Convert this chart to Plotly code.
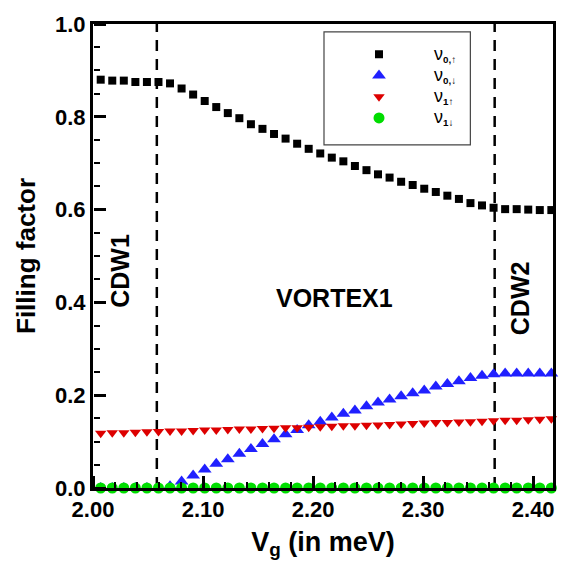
import plotly.graph_objects as go

vg = [2.007, 2.0175, 2.028, 2.0385, 2.049, 2.0595, 2.07, 2.0805, 2.091, 2.1015,
      2.112, 2.1225, 2.133, 2.1435, 2.154, 2.1645, 2.175, 2.1855, 2.196, 2.2065,
      2.217, 2.2275, 2.238, 2.2485, 2.259, 2.2695, 2.28, 2.2905, 2.301, 2.3115,
      2.322, 2.3325, 2.343, 2.3535, 2.364, 2.3745, 2.385, 2.3955, 2.406, 2.4165]

nu0_up = [0.880, 0.878, 0.878, 0.875, 0.875, 0.875, 0.872, 0.861, 0.848, 0.834,
          0.821, 0.808, 0.797, 0.784, 0.774, 0.763, 0.753, 0.742, 0.731, 0.721,
          0.712, 0.704, 0.694, 0.685, 0.676, 0.669, 0.660, 0.653, 0.645, 0.638,
          0.630, 0.623, 0.614, 0.609, 0.604, 0.601, 0.601, 0.600, 0.599, 0.599]

nu0_dn = [0.0, 0.0, 0.0, 0.0, 0.0, 0.0, 0.004, 0.014, 0.027, 0.040,
          0.052, 0.062, 0.074, 0.084, 0.095, 0.105, 0.116, 0.125, 0.135, 0.143,
          0.152, 0.160, 0.167, 0.176, 0.184, 0.191, 0.198, 0.204, 0.210, 0.219,
          0.224, 0.230, 0.237, 0.242, 0.245, 0.247, 0.247, 0.247, 0.247, 0.247]

nu1_up = [0.118, 0.119, 0.119, 0.120, 0.121, 0.122, 0.123, 0.123, 0.124, 0.125,
          0.125, 0.126, 0.127, 0.127, 0.128, 0.129, 0.130, 0.130, 0.131, 0.132,
          0.133, 0.134, 0.134, 0.135, 0.136, 0.137, 0.138, 0.139, 0.140, 0.141,
          0.141, 0.142, 0.143, 0.144, 0.145, 0.146, 0.146, 0.147, 0.148, 0.149]

nu1_dn = [0.0] * 40

boundaries = [2.058, 2.365]
region_labels = ["CDW1", "VORTEX1", "CDW2"]
region_x = [2.025, 2.219, 2.388]
region_y = [0.467, 0.409, 0.409]
region_angle = [-90, 0, -90]

series_names = ["0,↑", "0,↓", "1↑", "1↓"]

X_RANGE = [2.0, 2.418]
Y_RANGE = [0.0, 1.0]

FONT = "Liberation Sans, Arial, Helvetica, sans-serif"


def legend_name(sub):
    return '<span style="font-size:18px">ν</span><b><sub>%s</sub></b>' % sub


fig = go.Figure()
fig.add_trace(go.Scatter(x=vg, y=nu0_up, mode="markers", name=legend_name(series_names[0]),
                         cliponaxis=False,
                         marker=dict(symbol="square", size=8, color="black")))
fig.add_trace(go.Scatter(x=vg, y=nu0_dn, mode="markers", name=legend_name(series_names[1]),
                         cliponaxis=False,
                         marker=dict(symbol="triangle-up", size=12, color="#2020ff")))
fig.add_trace(go.Scatter(x=vg, y=nu1_up, mode="markers", name=legend_name(series_names[2]),
                         cliponaxis=False,
                         marker=dict(symbol="triangle-down", size=10, color="#dd0000")))
fig.add_trace(go.Scatter(x=vg, y=nu1_dn, mode="markers", name=legend_name(series_names[3]),
                         cliponaxis=False,
                         marker=dict(symbol="circle", size=11, color="#00dd00")))
# invisible companion trace so the inward-tick overlay axes are drawn
fig.add_trace(go.Scatter(x=vg, y=nu0_up, mode="markers", xaxis="x2", yaxis="y2",
                         marker=dict(opacity=0), showlegend=False, hoverinfo="skip"))

for b in boundaries:
    fig.add_shape(type="line", xref="x", yref="paper", x0=b, x1=b, y0=0, y1=1,
                  line=dict(color="black", width=2.5, dash="11px,8px"), layer="below")

for lab, xx, yy, ang in zip(region_labels, region_x, region_y, region_angle):
    fig.add_annotation(x=xx, y=yy, xref="x", yref="y", text="<b>%s</b>" % lab,
                       showarrow=False, textangle=ang,
                       font=dict(family=FONT, size=25, color="black"))

# legend frame
fig.add_shape(type="rect", xref="paper", yref="paper",
              x0=(325 - 93) / 462, x1=(472 - 93) / 462,
              y0=(488 - 139) / 472, y1=(488 - 24) / 472,
              line=dict(color="#444", width=1.2), fillcolor="white", layer="above")

fig.update_layout(
    width=568, height=564,
    margin=dict(l=93, r=13, t=16, b=76),
    plot_bgcolor="white", paper_bgcolor="white",
    font=dict(family=FONT, color="black"),
    xaxis=dict(range=X_RANGE, tickmode="linear", tick0=2.0, dtick=0.1, tickformat=".2f",
               showline=True, linecolor="black", linewidth=3, mirror=True,
               ticks="", showgrid=False, zeroline=False,
               tickfont=dict(family=FONT, size=22, color="black", weight="bold"),
               title=dict(text="<b>V<sub>g</sub> (in meV)</b>", standoff=11,
                          font=dict(family=FONT, size=27, color="black"))),
    yaxis=dict(range=Y_RANGE, tickmode="linear", tick0=0, dtick=0.2, tickformat=".1f",
               showline=True, linecolor="black", linewidth=3, mirror=True,
               ticks="", showgrid=False, zeroline=False,
               tickfont=dict(family=FONT, size=22, color="black", weight="bold"),
               title=dict(text="<b>Filling factor</b>", standoff=12,
                          font=dict(family=FONT, size=26, color="black"))),
    # overlay axes: outside ticks of a top-side axis placed at the bottom point inward
    xaxis2=dict(range=X_RANGE, overlaying="x", side="top", anchor="free", position=0,
                tickmode="linear", tick0=2.0, dtick=0.1,
                ticks="outside", ticklen=12, tickwidth=3, tickcolor="black",
                minor=dict(ticks="outside", ticklen=6, tickwidth=1.5, tickcolor="black",
                           dtick=0.02, tick0=2.0, showgrid=False),
                showticklabels=False, showline=False, showgrid=False, zeroline=False),
    yaxis2=dict(range=Y_RANGE, overlaying="y", side="right", anchor="free", position=0,
                tickmode="linear", tick0=0, dtick=0.2,
                ticks="outside", ticklen=12, tickwidth=3, tickcolor="black",
                minor=dict(ticks="outside", ticklen=6, tickwidth=1.5, tickcolor="black",
                           dtick=0.05, tick0=0, showgrid=False),
                showticklabels=False, showline=False, showgrid=False, zeroline=False),
    legend=dict(x=(325 - 93) / 462, y=(488 - 31) / 472, xanchor="left", yanchor="top",
                bgcolor="rgba(0,0,0,0)", borderwidth=0,
                font=dict(family=FONT, size=14, color="black"),
                itemwidth=100, tracegroupgap=0),
)

fig.write_html("out.html")
